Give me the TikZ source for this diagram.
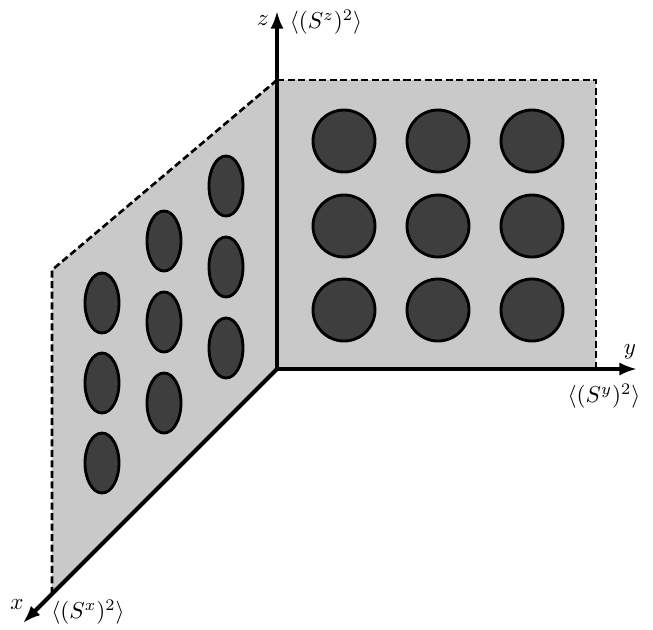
\documentclass[tikz,border=0pt]{standalone}
\usetikzlibrary{arrows.meta}
\definecolor{planegray}{RGB}{201,201,201}
\definecolor{blobgray}{RGB}{62,62,62}
\tikzset{
  plane/.style={fill=planegray},
  edge/.style={line width=1.2pt,dash pattern=on 3.2pt off 1.6pt},
  axis/.style={-{Latex[length=8pt,width=6pt]},line width=1.8pt},
  blob/.style={draw=black,fill=blobgray,line width=1.3pt},
  lab/.style={inner sep=0pt,scale=1.05},
}

\begin{document}
\begin{tikzpicture}[x=0.016cm,y=-0.016cm]
  \useasboundingbox (0,0) rectangle (653,629);
  % corners
  \coordinate (O) at (277,369);
  \coordinate (zend) at (277,11);
  \coordinate (yend) at (637,369);
  \coordinate (xend) at (23,623);
  \coordinate (ztop) at (277,80);
  \coordinate (ytop) at (596,80);
  \coordinate (ybot) at (596,369);
  \coordinate (xtop) at (52,270);
  \coordinate (xbot) at (52,594);
  % planes
  \fill[plane] (O) -- (ztop) -- (ytop) -- (ybot) -- cycle;
  \fill[plane] (O) -- (ztop) -- (xtop) -- (xbot) -- cycle;
  \draw[edge] (ztop) -- (ytop) -- (ybot);
  \draw[edge] (ztop) -- (xtop) -- (xbot);
  % blobs on the y-z plane
  \foreach \cx in {344,438,532}
    \foreach \cy in {141,226,310}
      \draw[blob] (\cx,\cy) circle [radius=31];
  % blobs on the x-z plane
  \foreach \cx/\cy in {102/303,102/383,102/463,
                       164/241,164/322,164/403,
                       226/186,226/267,226/348}
    \draw[blob] (\cx,\cy) ellipse [x radius=17,y radius=30];
  % axes
  \draw[axis] (O) -- (zend);
  \draw[axis] (O) -- (yend);
  \draw[axis] (O) -- (xend);
  \node[lab] (zlab) at (263,21) {$z$};
  \node[lab] (zval) at (326,22) {$\langle (S^z)^2\rangle$};
  \node[lab] (ylab) at (630,352) {$y$};
  \node[lab] (yval) at (604,396) {$\langle (S^y)^2\rangle$};
  \node[lab] (xlab) at (17,605) {$x$};
  \node[lab] (xval) at (88,612) {$\langle (S^x)^2\rangle$};
\end{tikzpicture}
\end{document}
